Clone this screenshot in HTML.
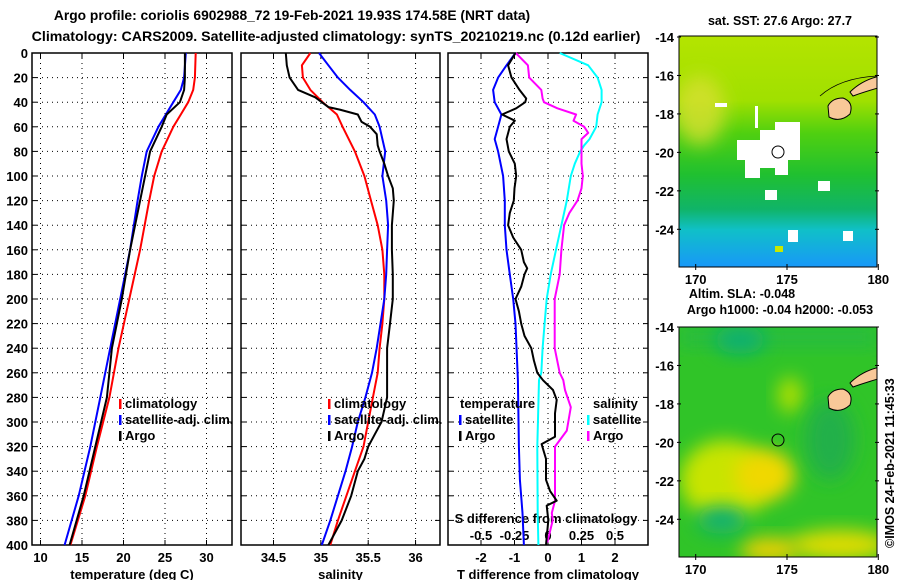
<!DOCTYPE html>
<html><head><meta charset="utf-8"><style>
body{margin:0;background:#fff}
svg{display:block;font-family:"Liberation Sans",sans-serif;font-weight:bold}
</style></head><body>
<svg id="fig" width="900" height="580" viewBox="0 0 900 580">
<defs>
<linearGradient id="sstg" x1="0" y1="0" x2="0" y2="1">
<stop offset="0" stop-color="#b4e400"/><stop offset="0.28" stop-color="#a0e000"/>
<stop offset="0.42" stop-color="#50d010"/><stop offset="0.6" stop-color="#20c030"/>
<stop offset="0.75" stop-color="#10b468"/><stop offset="0.84" stop-color="#10c0c8"/>
<stop offset="1" stop-color="#1898f8"/></linearGradient>
<filter id="blur" x="-50%" y="-50%" width="200%" height="200%"><feGaussianBlur stdDeviation="9"/></filter>
<clipPath id="cl1"><rect x="679" y="36" width="198" height="231"/></clipPath>
<clipPath id="cl2"><rect x="679" y="327" width="198" height="230"/></clipPath>
</defs>
<text x="292" y="20" font-size="13.8" text-anchor="middle">Argo profile: coriolis 6902988_72 19-Feb-2021 19.93S 174.58E (NRT data)</text>
<text x="336" y="41" font-size="14.2" text-anchor="middle">Climatology: CARS2009. Satellite-adjusted climatology: synTS_20210219.nc (0.12d earlier)</text>
<g id="panels"></g>
<g>
<text x="780" y="25" font-size="12.5" text-anchor="middle">sat. SST: 27.6 Argo: 27.7</text>
<g clip-path="url(#cl1)">
<rect x="679" y="36" width="198" height="231" fill="url(#sstg)"/>
<ellipse cx="700" cy="110" rx="25" ry="35" fill="#d8e030" filter="url(#blur)" opacity="0.8"/>
<path d="M737 140 L760 140 L760 130 L775 130 L775 122 L800 122 L800 160 L788 160 L788 175 L775 175 L775 168 L760 168 L760 178 L745 178 L745 160 L737 160Z" fill="#fff"/>
<rect x="755" y="106" width="3" height="22" fill="#fff"/>
<rect x="715" y="103" width="12" height="4" fill="#fff"/>
<rect x="818" y="181" width="12" height="10" fill="#fff"/>
<rect x="788" y="230" width="10" height="12" fill="#fff"/>
<rect x="843" y="231" width="10" height="10" fill="#fff"/>
<rect x="765" y="190" width="12" height="10" fill="#fff"/>
<rect x="775" y="246" width="8" height="6" fill="#c8e800"/>
<path d="M828 106 Q832 98 843 98 Q854 102 850 114 Q840 123 829 117Z" fill="#f8c898" stroke="#000"/>
<path d="M850 92 Q862 80 880 76 L878 88 Q864 92 853 96Z" fill="#f8c898" stroke="#000"/>
<path d="M820 96 Q840 78 877 76" fill="none" stroke="#000" stroke-width="0.8"/>
</g>
<rect x="679" y="36" width="198" height="231" fill="none" stroke="#000"/>
<circle cx="778" cy="152" r="6" fill="none" stroke="#000"/>
</g>
<text x="742" y="298" font-size="12.5" text-anchor="middle">Altim. SLA: -0.048</text>
<text x="780" y="314" font-size="12.5" text-anchor="middle">Argo h1000: -0.04 h2000: -0.053</text>
<g>
<g clip-path="url(#cl2)">
<rect x="679" y="327" width="198" height="230" fill="#30c428"/>
<rect x="679" y="327" width="198" height="20" fill="#28bc40" filter="url(#blur)"/>
<ellipse cx="725" cy="480" rx="45" ry="40" fill="#c8e400" filter="url(#blur)"/>
<ellipse cx="765" cy="475" rx="30" ry="25" fill="#f0d800" filter="url(#blur)"/>
<ellipse cx="790" cy="395" rx="12" ry="18" fill="#b0e000" filter="url(#blur)"/>
<ellipse cx="840" cy="545" rx="50" ry="15" fill="#e0dc00" filter="url(#blur)"/>
<ellipse cx="770" cy="550" rx="30" ry="12" fill="#f0d000" filter="url(#blur)"/>
<ellipse cx="722" cy="520" rx="25" ry="14" fill="#10b070" filter="url(#blur)"/>
<ellipse cx="740" cy="340" rx="25" ry="14" fill="#10b070" filter="url(#blur)"/>
<ellipse cx="830" cy="440" rx="25" ry="40" fill="#20b048" filter="url(#blur)"/>
<path d="M828 397 Q832 389 843 389 Q854 393 850 405 Q840 414 829 408Z" fill="#f8c898" stroke="#000"/>
<path d="M850 383 Q862 371 880 367 L878 379 Q864 383 853 387Z" fill="#f8c898" stroke="#000"/>
</g>
<rect x="679" y="327" width="198" height="230" fill="none" stroke="#000"/>
<circle cx="778" cy="440" r="6" fill="none" stroke="#000"/>
</g>
<text transform="translate(894,548) rotate(-90)" font-size="12.5">©IMOS 24-Feb-2021 11:45:33</text>
<g id="maplabels"></g>
</svg>
<script>
const NS='http://www.w3.org/2000/svg';
const tDepth=[0,20,30,40,50,60,80,100,120,160,200,240,280,320,360,400];
const tClim=[28.7,28.6,28.4,27.8,26.9,26.0,24.6,23.7,23.1,22.0,20.7,19.4,18.3,16.8,15.4,13.6];
const tSat=[27.5,27.3,26.9,26.0,25.1,24.2,22.8,22.2,21.7,20.8,19.6,18.4,17.2,16.0,14.6,12.9];
const tArgo=[27.4,27.4,27.3,26.8,25.2,24.6,23.2,22.6,22.0,20.8,19.8,18.6,18.0,16.6,15.2,13.5];
const sDepth=[0,10,20,30,40,50,60,80,100,120,140,160,180,200,220,240,260,280,300,320,340,360,380,400];
const sClim=[34.89,34.80,34.81,34.89,35.02,35.17,35.23,35.36,35.46,35.53,35.60,35.65,35.67,35.67,35.65,35.62,35.60,35.55,35.50,35.45,35.36,35.27,35.18,35.10];
const sSat=[34.98,35.08,35.18,35.31,35.45,35.57,35.62,35.68,35.65,35.69,35.71,35.70,35.69,35.67,35.63,35.59,35.54,35.47,35.39,35.33,35.26,35.18,35.10,35.01];
const sArgoDepth=[0,10,20,30,36,40,44,46,50,56,60,66,75,80,90,100,110,120,140,160,180,200,220,240,260,280,300,310,320,330,340,360,380,400];
const sArgo=[34.63,34.64,34.67,34.76,34.94,35.01,35.08,35.20,35.39,35.43,35.52,35.59,35.60,35.62,35.67,35.71,35.76,35.77,35.75,35.75,35.76,35.76,35.73,35.70,35.70,35.70,35.64,35.57,35.50,35.46,35.39,35.32,35.22,35.08];
const dtSatDepth=[0,10,20,30,40,50,60,70,80,100,120,140,160,180,200,220,266,320,347,374,400];
const dtSat=[-0.97,-1.24,-1.49,-1.64,-1.59,-1.39,-1.49,-1.59,-1.49,-1.34,-1.29,-1.29,-1.24,-1.14,-1.04,-0.97,-0.9,-0.87,-0.84,-0.76,-0.72];
const dtArgoDepth=[0,10,20,30,37,40,45,50,55,60,70,80,90,100,110,120,130,140,150,160,170,175,180,190,200,210,220,230,240,250,260,266,274,282,293,312,318,330,347,356,364,368,380,400];
const dtArgo=[-0.97,-1.19,-1.09,-0.85,-0.65,-0.68,-0.95,-1.37,-0.99,-1.14,-1.24,-1.17,-0.99,-0.95,-1.0,-1.02,-1.14,-1.19,-1.04,-0.8,-0.72,-0.62,-0.7,-0.8,-0.97,-0.87,-0.8,-0.7,-0.5,-0.42,-0.32,-0.15,0.15,0.26,0.21,0.21,-0.19,-0.06,-0.06,0.06,0.26,-0.04,0.01,-0.06];
const dsSatDepth=[0,10,20,30,40,50,60,70,75,80,90,100,120,140,160,180,200,220,240,260,266,320,374,400];
const dsSat=[0.087,0.30,0.37,0.40,0.40,0.37,0.36,0.31,0.27,0.24,0.20,0.17,0.14,0.10,0.06,0.02,-0.01,-0.025,-0.04,-0.05,-0.067,-0.08,-0.077,-0.072];
const dsArgoDepth=[0,10,20,30,37,40,45,50,55,60,65,70,80,90,100,110,120,130,140,160,180,200,220,240,260,266,274,288,307,320,347,364,374,380,398];
const dsArgo=[-0.24,-0.15,-0.14,-0.05,-0.04,-0.03,0.07,0.21,0.19,0.27,0.30,0.25,0.25,0.25,0.26,0.25,0.22,0.16,0.12,0.10,0.087,0.05,0.05,0.05,0.087,0.114,0.127,0.17,0.14,0.052,0.052,0.052,0.028,0.035,-0.005];
const depthTicks=[0,20,40,60,80,100,120,140,160,180,200,220,240,260,280,300,320,340,360,380,400];
const tTicks=[10,15,20,25,30];
const sTicks=[34.5,35,35.5,36];
const dtTicks=[-2,-1,0,1,2];
const dsTicks=[-0.5,-0.25,0,0.25,0.5];
const dsTickLabels=['-0.5','-0.25','0','0.25','0.5'];
const latTicks=[-14,-16,-18,-20,-22,-24];
const lonTicks=[170,175,180];

const FS=13;
const Y0=53,Y1=545;
const yD=d=>Y0+d*(Y1-Y0)/400;
const xT=t=>40.5+(t-10)*8.3;
const xS=s=>273.5+(s-34.5)*94.7;
const xDT=t=>548+t*33.5;
const xDS=s=>548+s*4*33.5;
const G=document.getElementById('panels');
function mk(tag,a,parent){const e=document.createElementNS(NS,tag);for(const k in a)e.setAttribute(k,a[k]);(parent||G).appendChild(e);return e;}
function txt(x,y,s,anchor,size,parent){const e=mk('text',{x:x,y:y,'font-size':size||FS,'text-anchor':anchor||'middle'},parent);e.textContent=s;return e;}
const panels=[{x0:32,x1:232,name:'temperature-panel',ticks:tTicks,xf:xT,lab:'temperature (deg C)'},
{x0:241,x1:440,name:'salinity-panel',ticks:sTicks,xf:xS,lab:'salinity'},
{x0:448,x1:648,name:'difference-panel',ticks:dtTicks,xf:xDT,lab:'T difference from climatology'}];
panels.forEach((p,i)=>{
  const g=mk('g',{});
  
  
  depthTicks.forEach(d=>{
    if(d>0&&d<400){const l=mk('line',{x1:p.x0,x2:p.x1,y1:yD(d),y2:yD(d),stroke:'#000','stroke-width':1,'stroke-dasharray':'1,4'},g);
      }
    mk('line',{x1:p.x0,x2:p.x0+5,y1:yD(d),y2:yD(d),stroke:'#000'},g);
    mk('line',{x1:p.x1-5,x2:p.x1,y1:yD(d),y2:yD(d),stroke:'#000'},g);
  });
  p.ticks.forEach((t,j)=>{
    const x=p.xf(t);
    const l=mk('line',{x1:x,x2:x,y1:Y0,y2:Y1,stroke:'#000','stroke-width':1,'stroke-dasharray':'1,4'},g);
    
    mk('line',{x1:x,x2:x,y1:Y0,y2:Y0+5,stroke:'#000'},g);
    mk('line',{x1:x,x2:x,y1:Y1-5,y2:Y1,stroke:'#000'},g);
    const tl=txt(x,562,String(t),'middle',FS,g);
    
  });
  const r=mk('rect',{x:p.x0,y:Y0,width:p.x1-p.x0,height:Y1-Y0,fill:'none',stroke:'#000','stroke-width':1.5},g);
  
  const at=txt((p.x0+p.x1)/2,579,p.lab,'middle',FS,g);
  
});
depthTicks.forEach(d=>{const t=txt(28,yD(d)+5,String(d),'end',FS);
  });
dsTicks.forEach((s,j)=>{const t=txt(xDS(s),540,dsTickLabels[j],'middle',FS);
  });
const sdl=txt(546,523,'S difference from climatology','middle',FS);

function line(xs,ds,xf,color,name){
  const pts=xs.map((v,i)=>xf(v).toFixed(1)+','+yD(ds[i]).toFixed(1)).join(' ');
  const e=mk('polyline',{points:pts,fill:'none',stroke:color,'stroke-width':2,'stroke-linejoin':'round'});
  
  
}
line(tClim,tDepth,xT,'#ff0000','temp-climatology-line');
line(tSat,tDepth,xT,'#0000ff','temp-satellite-line');
line(tArgo,tDepth,xT,'#000','temp-argo-line');
line(sClim,sDepth,xS,'#ff0000','sal-climatology-line');
line(sSat,sDepth,xS,'#0000ff','sal-satellite-line');
line(sArgo,sArgoDepth,xS,'#000','sal-argo-line');
line(dtSat,dtSatDepth,xDT,'#0000ff','tdiff-satellite-line');
line(dsSat,dsSatDepth,xDS,'#00ffff','sdiff-satellite-line');
line(dsArgo,dsArgoDepth,xDS,'#ff00ff','sdiff-argo-line');
line(dtArgo,dtArgoDepth,xDT,'#000','tdiff-argo-line');
function leg(x,y,color,label){
  const m=mk('rect',{x:x,y:y-9,width:2.5,height:10,fill:color});
  
  const t=txt(x+6,y,label,'start',FS);
  
}
[[119,'#ff0000','climatology'],[119,'#0000ff','satellite-adj. clim.'],[119,'#000','Argo']].forEach((a,i)=>leg(a[0],408+i*16,a[1],a[2]));
[[328,'#ff0000','climatology'],[328,'#0000ff','satellite-adj. clim.'],[328,'#000','Argo']].forEach((a,i)=>leg(a[0],408+i*16,a[1],a[2]));
const th=txt(460,408,'temperature','start',FS);
const sh=txt(593,408,'salinity','start',FS);
leg(459,424,'#0000ff','satellite');leg(459,440,'#000','Argo');
leg(587,424,'#00ffff','satellite');leg(587,440,'#ff00ff','Argo');
const ML=document.getElementById('maplabels');
const lonX=l=>695.7+(l-170)*18.26;
[[37,267],[327,557]].forEach((m,k)=>{
  latTicks.forEach(la=>{const y=m[0]+(-14-la)*19.23;
    const t=txt(674,y+5,String(la),'end',FS,ML);
    
    mk('line',{x1:677,x2:681,y1:y,y2:y,stroke:'#000'},ML);mk('line',{x1:875,x2:879,y1:y,y2:y,stroke:'#000'},ML);});
  lonTicks.forEach(lo=>{const x=lonX(lo);
    const t=txt(x,m[1]+17,String(lo),'middle',FS,ML);
    
    mk('line',{x1:x,x2:x,y1:m[1]-3,y2:m[1]+3,stroke:'#000'},ML);});
});
</script>
</body></html>
